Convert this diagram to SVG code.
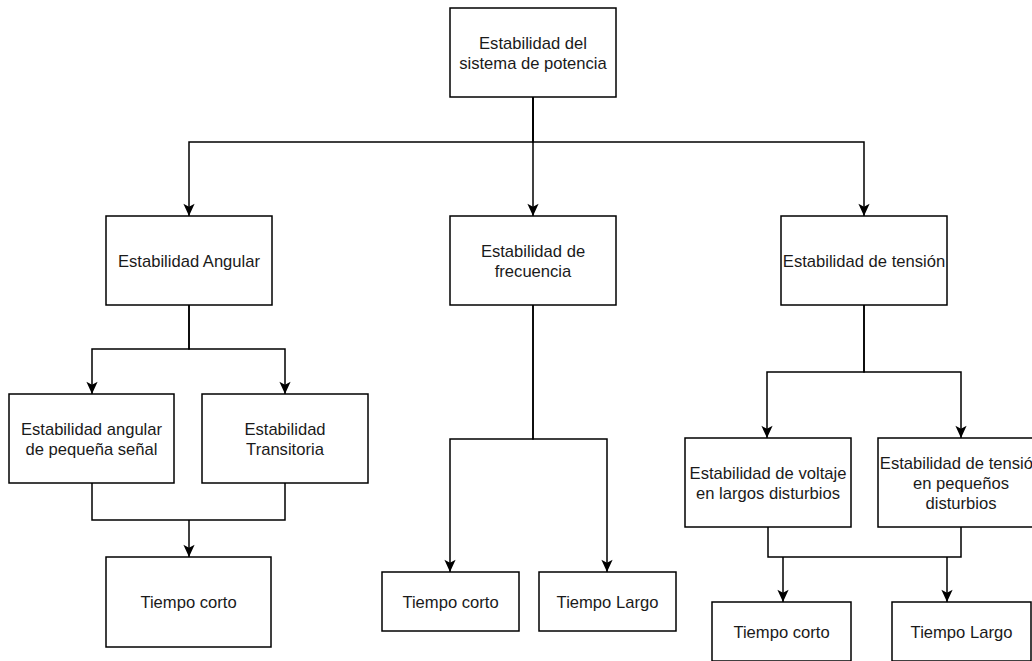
<svg xmlns="http://www.w3.org/2000/svg" width="1032" height="661" viewBox="0 0 1032 661">
  <style>
    .box { fill: #ffffff; stroke: #000000; stroke-width: 1.5; }
    .lbl { font-family: "Liberation Sans", Arial, sans-serif; font-size: 16.6px; fill: #1a1a1a; text-anchor: middle; }
    .edge { fill: none; stroke: #000000; stroke-width: 1.5; }
    .arrow { marker-end: url(#head); }
  </style>
  <defs>
    <marker id="head" markerUnits="userSpaceOnUse" markerWidth="14" markerHeight="14" viewBox="-14 -7 15 14" refX="0" refY="0" orient="auto">
      <path d="M0,0 L-13,-6 L-10,0 L-13,6 Z" fill="#000000"/>
    </marker>
  </defs>
  <rect width="1032" height="661" fill="#ffffff"/>

  <g id="connectors">
    <path class="edge arrow" d="M533,97 V142 H189 V216"/>
    <path class="edge arrow" d="M533,97 V216"/>
    <path class="edge arrow" d="M533,97 V142 H864 V216"/>

    <path class="edge arrow" d="M189,305 V349 H92 V394"/>
    <path class="edge arrow" d="M189,305 V349 H285 V394"/>
    <path class="edge" d="M92,483 V520 H285 V483"/>
    <path class="edge arrow" d="M189,520 V557"/>

    <path class="edge arrow" d="M533,305 V439 H450 V572"/>
    <path class="edge arrow" d="M533,305 V439 H607 V572"/>

    <path class="edge arrow" d="M864,305 V372 H767 V438"/>
    <path class="edge arrow" d="M864,305 V372 H961 V438"/>
    <path class="edge" d="M768,527 V557 H961 V527"/>
    <path class="edge arrow" d="M783,557 V602"/>
    <path class="edge arrow" d="M947,557 V602"/>
  </g>

  <g id="n-sistema">
    <rect class="box" x="450" y="8" width="166" height="89"/>
    <text class="lbl" x="533" y="49">Estabilidad del</text>
    <text class="lbl" x="533" y="69">sistema de potencia</text>
  </g>

  <g id="n-angular">
    <rect class="box" x="106" y="216" width="166" height="89"/>
    <text class="lbl" x="189" y="267">Estabilidad Angular</text>
  </g>

  <g id="n-frecuencia">
    <rect class="box" x="450" y="216" width="166" height="89"/>
    <text class="lbl" x="533" y="257">Estabilidad de</text>
    <text class="lbl" x="533" y="277">frecuencia</text>
  </g>

  <g id="n-tension">
    <rect class="box" x="781" y="216" width="166" height="89"/>
    <text class="lbl" x="864" y="267">Estabilidad de tensión</text>
  </g>

  <g id="n-pequena-senal">
    <rect class="box" x="9" y="394" width="165" height="89"/>
    <text class="lbl" x="91.5" y="435">Estabilidad angular</text>
    <text class="lbl" x="91.5" y="455">de pequeña señal</text>
  </g>

  <g id="n-transitoria">
    <rect class="box" x="202" y="394" width="166" height="89"/>
    <text class="lbl" x="285" y="435">Estabilidad</text>
    <text class="lbl" x="285" y="455">Transitoria</text>
  </g>

  <g id="n-angular-corto">
    <rect class="box" x="106" y="557" width="165" height="90"/>
    <text class="lbl" x="188.5" y="608">Tiempo corto</text>
  </g>

  <g id="n-frecuencia-corto">
    <rect class="box" x="382" y="572" width="137" height="59"/>
    <text class="lbl" x="450.5" y="607.5">Tiempo corto</text>
  </g>

  <g id="n-frecuencia-largo">
    <rect class="box" x="539" y="572" width="137" height="59"/>
    <text class="lbl" x="607.5" y="607.5">Tiempo Largo</text>
  </g>

  <g id="n-voltaje-largos">
    <rect class="box" x="685" y="438" width="166" height="89"/>
    <text class="lbl" x="768" y="479">Estabilidad de voltaje</text>
    <text class="lbl" x="768" y="499">en largos disturbios</text>
  </g>

  <g id="n-tension-pequenos">
    <rect class="box" x="878" y="438" width="166" height="89"/>
    <text class="lbl" x="961" y="469">Estabilidad de tensión</text>
    <text class="lbl" x="961" y="489">en pequeños</text>
    <text class="lbl" x="961" y="509">disturbios</text>
  </g>

  <g id="n-tension-corto">
    <rect class="box" x="712" y="602" width="139" height="59"/>
    <text class="lbl" x="781.5" y="637.5">Tiempo corto</text>
  </g>

  <g id="n-tension-largo">
    <rect class="box" x="892" y="602" width="139" height="59"/>
    <text class="lbl" x="961.5" y="637.5">Tiempo Largo</text>
  </g>
</svg>
